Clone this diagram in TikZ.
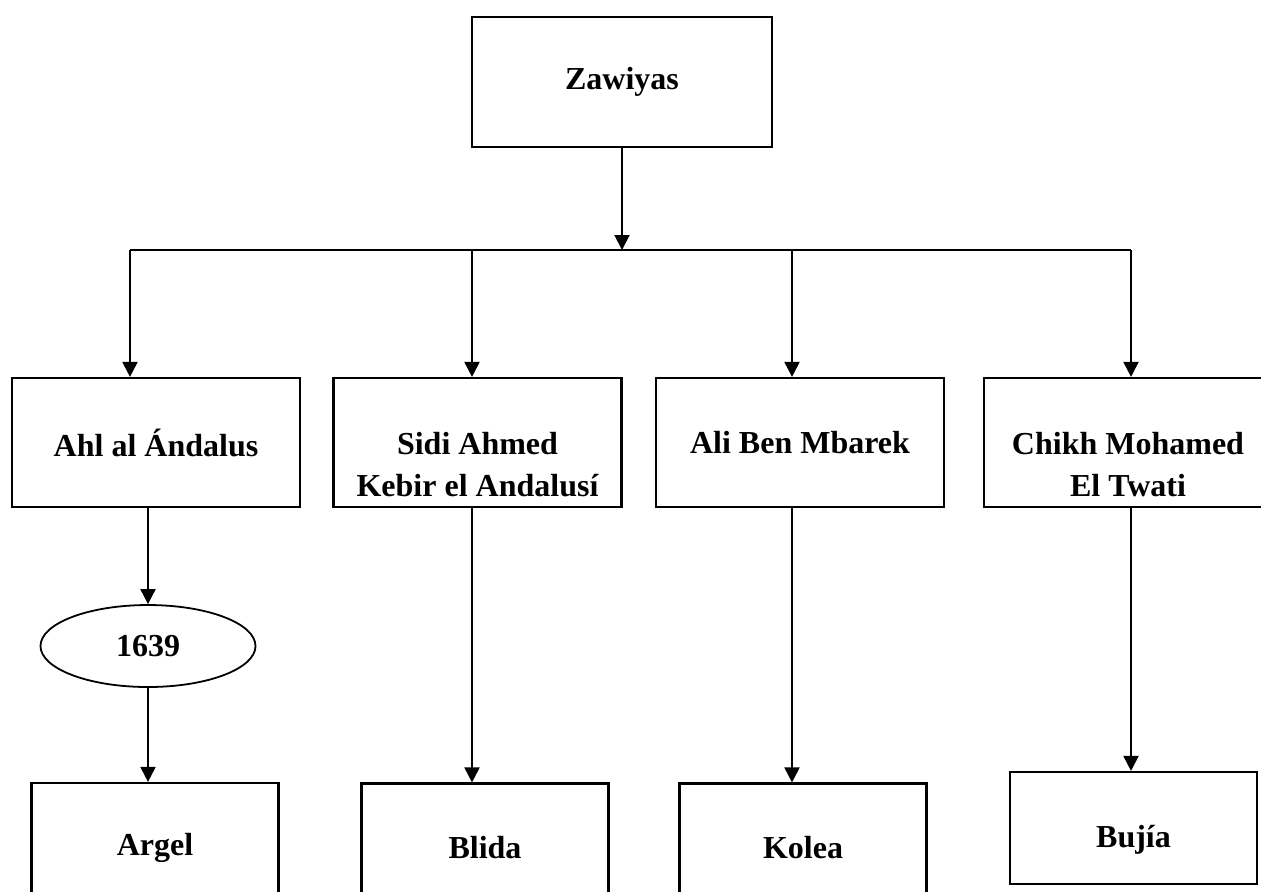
\documentclass[tikz,border=0pt]{standalone}
\usepackage{fontspec}
\setmainfont{Liberation Serif}
\usetikzlibrary{arrows.meta,shapes.geometric,positioning}
\tikzset{
every node/.style={font=\bfseries\fontsize{16}{21}\selectfont},
box/.style= {rectangle, draw, line width=1.1pt, minimum width=144pt, minimum height=64.5pt, inner sep=0pt, align=center},
lowbox/.style= {rectangle, draw, line width=1.1pt, minimum width=123.5pt, minimum height=56pt, inner sep=0pt, align=center},
oval/.style= {ellipse, draw, line width=0.9pt, minimum width=107.5pt, minimum height=41pt, inner sep=0pt}
}

\begin{document}
\begin{tikzpicture}[x=0.5pt, y=-0.5pt, >={Triangle[width=7.5pt,length=7.5pt]}, line width=1pt]
\useasboundingbox (0,0) rectangle (1261,891);
\clip (0,0) rectangle (1261,891);

\node[box, minimum width=150pt, minimum height=65pt] (zaw) at (622,82) {Zawiyas};

\node[box] (ahl) at (156,442.5) {Ahl al Ándalus};
\node[box, label={[align=center, yshift=-11pt]center:Sidi Ahmed\\Kebir el Andalusí}] (sidi) at (477.5,442.5) {};
\node[box] (ali) at (800,442.5) {Ali Ben Mbarek};
\node[box, label={[align=center, yshift=-11pt]center:Chikh Mohamed\\El Twati}] (chikh) at (1128,442.5) {};

\node[oval] (ell) at (148,646) {1639};

\node[lowbox, minimum height=64.5pt] (argel) at (155,847.5) {Argel};
\node[lowbox, minimum height=64.5pt] (blida) at (485,848) {Blida};
\node[lowbox, minimum height=64.5pt] (kolea) at (803,848) {Kolea};
\node[lowbox, label={[yshift=-6pt]center:Bujía}] (bujia) at (1133.5,828) {};

% branch line
\coordinate (j1) at (130,250);
\coordinate (j2) at (472,250);
\coordinate (j3) at (792,250);
\coordinate (j4) at (1131,250);

\draw[->] (zaw.south) -- (zaw.south |- j1);
\draw (j1) -- (j4);

\foreach \i/\n in {1/ahl,2/sidi,3/ali,4/chikh}
  \draw[->] (j\i) -- (j\i |- \n.north);

\draw[->] (ahl.south -| ell.north) -- (ell.north);
\draw[->] (ell.south) -- (ell.south |- argel.north);

\foreach \i/\a/\b in {2/sidi/blida,3/ali/kolea,4/chikh/bujia}
  \draw[->] (j\i |- \a.south) -- (j\i |- \b.north);
\end{tikzpicture}
\end{document}
